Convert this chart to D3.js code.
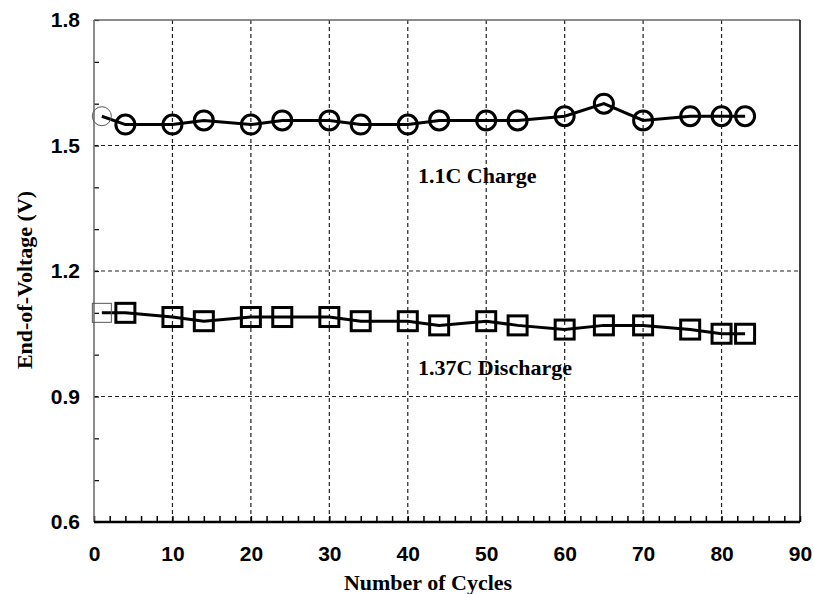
<!DOCTYPE html>
<html>
<head>
<meta charset="utf-8">
<script src="https://cdn.jsdelivr.net/npm/d3@7"></script>
<style>
  body { margin: 0; background: #fff; }
  .tick text { font-family: "Liberation Sans", Arial, sans-serif; font-weight: bold; font-size: 21px; fill: #000; }
</style>
</head>
<body>
<div id="chart"></div>
<script>
// DATA
const cycles = [1, 4, 10, 14, 20, 24, 30, 34, 40, 44, 50, 54, 60, 65, 70, 76, 80, 83];
const chargeVoltage = [1.57, 1.55, 1.55, 1.56, 1.55, 1.56, 1.56, 1.55, 1.55, 1.56, 1.56, 1.56, 1.57, 1.60, 1.56, 1.57, 1.57, 1.57];
const dischargeVoltage = [1.10, 1.10, 1.09, 1.08, 1.09, 1.09, 1.09, 1.08, 1.08, 1.07, 1.08, 1.07, 1.06, 1.07, 1.07, 1.06, 1.05, 1.05];
const xTicks = [0, 10, 20, 30, 40, 50, 60, 70, 80, 90];
const yTicks = [0.6, 0.9, 1.2, 1.5, 1.8];

// LAYOUT
const width = 814;
const height = 594;
const plotLeft = 94, plotRight = 800, plotTop = 20, plotBottom = 522;

const svg = d3.select("#chart")
    .append("svg")
    .attr("width", width)
    .attr("height", height);

const x = d3.scaleLinear().domain([0, 90]).range([plotLeft, plotRight]);
const y = d3.scaleLinear().domain([0.6, 1.8]).range([plotBottom, plotTop]);

// ---------------------------------------------------------------------------------
// GRID LINES (dashed)
svg.append("g")
    .selectAll("line")
    .data(xTicks.filter(d => d > 0 && d < 90))
    .join("line")
    .attr("x1", d => x(d)).attr("x2", d => x(d))
    .attr("y1", plotTop).attr("y2", plotBottom)
    .attr("stroke", "#222")
    .attr("stroke-width", 1.2)
    .attr("stroke-dasharray", "4,3");

svg.append("g")
    .selectAll("line")
    .data(yTicks.filter(d => d > 0.6 && d < 1.8))
    .join("line")
    .attr("x1", plotLeft).attr("x2", plotRight)
    .attr("y1", d => y(d)).attr("y2", d => y(d))
    .attr("stroke", "#222")
    .attr("stroke-width", 1.2)
    .attr("stroke-dasharray", "4,3");

// ---------------------------------------------------------------------------------
// AXES
// minor ticks pointing inward
const xAxis = d3.axisBottom(x)
    .tickValues(d3.range(0, 91, 2))
    .tickSizeInner(-6)
    .tickSizeOuter(0)
    .tickFormat("");
svg.append("g")
    .attr("transform", `translate(0,${plotBottom})`)
    .call(xAxis)
    .call(g => g.select(".domain").remove())
    .call(g => g.selectAll(".tick line").attr("stroke", "#000").attr("stroke-width", 1.5));

// x tick labels
const xLabels = d3.axisBottom(x)
    .tickValues(xTicks)
    .tickSize(0)
    .tickPadding(24)
    .tickFormat(d3.format("d"));
svg.append("g")
    .attr("transform", `translate(0,${plotBottom})`)
    .call(xLabels)
    .call(g => g.select(".domain").remove());

const yAxis = d3.axisLeft(y)
    .tickValues(d3.range(6, 19).map(d => d / 10))
    .tickSizeInner(-5)
    .tickSizeOuter(0)
    .tickFormat("");
svg.append("g")
    .attr("transform", `translate(${plotLeft},0)`)
    .call(yAxis)
    .call(g => g.select(".domain").remove())
    .call(g => g.selectAll(".tick line").attr("stroke", "#000").attr("stroke-width", 1.2));

const yLabels = d3.axisLeft(y)
    .tickValues(yTicks)
    .tickSize(0)
    .tickPadding(14)
    .tickFormat(d3.format(".1f"));
svg.append("g")
    .attr("transform", `translate(${plotLeft},0)`)
    .call(yLabels)
    .call(g => g.select(".domain").remove());

// frame
svg.append("line")
    .attr("x1", plotLeft).attr("x2", plotRight).attr("y1", plotTop).attr("y2", plotTop)
    .attr("stroke", "#666").attr("stroke-width", 1.5);
svg.append("line")
    .attr("x1", plotRight).attr("x2", plotRight).attr("y1", plotTop).attr("y2", plotBottom)
    .attr("stroke", "#000").attr("stroke-width", 1.5);
svg.append("line")
    .attr("x1", plotLeft).attr("x2", plotLeft).attr("y1", plotTop).attr("y2", plotBottom)
    .attr("stroke", "#666").attr("stroke-width", 1.5);
svg.append("line")
    .attr("x1", plotLeft).attr("x2", plotRight).attr("y1", plotBottom).attr("y2", plotBottom)
    .attr("stroke", "#000").attr("stroke-width", 2.5);

// ---------------------------------------------------------------------------------
// SERIES
const line = d3.line()
    .x(d => x(d[0]))
    .y(d => y(d[1]));

const chargeData = cycles.map((c, i) => [c, chargeVoltage[i]]);
const dischargeData = cycles.map((c, i) => [c, dischargeVoltage[i]]);

svg.append("path")
    .datum(chargeData)
    .attr("d", line)
    .attr("fill", "none")
    .attr("stroke", "#000")
    .attr("stroke-width", 3);

svg.append("path")
    .datum(dischargeData)
    .attr("d", line)
    .attr("fill", "none")
    .attr("stroke", "#000")
    .attr("stroke-width", 3);

// circles (first one drawn thin and gray like the original)
svg.append("g")
    .selectAll("circle")
    .data(chargeData)
    .join("circle")
    .attr("cx", d => x(d[0]))
    .attr("cy", d => y(d[1]))
    .attr("r", 9.5)
    .attr("fill", "none")
    .attr("stroke", (d, i) => i === 0 ? "#555" : "#000")
    .attr("stroke-width", (d, i) => i === 0 ? 1 : 3);

// squares
const side = 19;
svg.append("g")
    .selectAll("rect")
    .data(dischargeData)
    .join("rect")
    .attr("x", d => x(d[0]) - side / 2)
    .attr("y", d => y(d[1]) - side / 2)
    .attr("width", side)
    .attr("height", side)
    .attr("fill", "none")
    .attr("stroke", (d, i) => i === 0 ? "#555" : "#000")
    .attr("stroke-width", (d, i) => i === 0 ? 1 : 3);

// ---------------------------------------------------------------------------------
// TEXT LABELS
const serif = "'Liberation Serif', 'Times New Roman', serif";
const titleSize = 22;

svg.append("text")
    .attr("x", x(41.3))
    .attr("y", 183)
    .attr("font-family", serif)
    .attr("font-weight", "bold")
    .attr("font-size", titleSize)
    .text("1.1C Charge");

svg.append("text")
    .attr("x", x(41.3))
    .attr("y", 375)
    .attr("font-family", serif)
    .attr("font-weight", "bold")
    .attr("font-size", titleSize)
    .text("1.37C Discharge");

svg.append("text")
    .attr("x", 428)
    .attr("y", 590)
    .attr("text-anchor", "middle")
    .attr("font-family", serif)
    .attr("font-weight", "bold")
    .attr("font-size", titleSize)
    .text("Number of Cycles");

svg.append("text")
    .attr("transform", `translate(32,${280}) rotate(-90)`)
    .attr("text-anchor", "middle")
    .attr("font-family", serif)
    .attr("font-weight", "bold")
    .attr("font-size", titleSize)
    .text("End-of-Voltage (V)");
</script>
</body>
</html>
